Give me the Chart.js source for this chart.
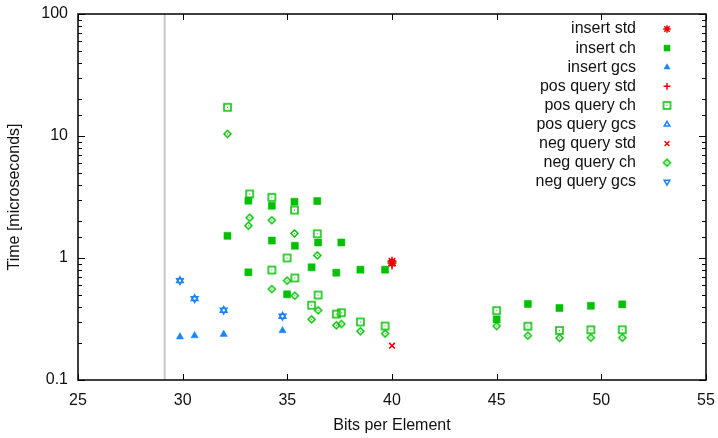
<!DOCTYPE html>
<html>
<head>
<meta charset="utf-8">
<script src="https://cdn.jsdelivr.net/npm/chart.js@4.4.1/dist/chart.umd.min.js"></script>
<style>
  html, body { margin: 0; padding: 0; background: #fff; }
</style>
</head>
<body>
<canvas id="myChart" width="718" height="438"></canvas>
<script>
//---------------------------
// DATA
//---------------------------

// reference line (lower bound) in bits per element
const boundBits = 29.14;

const insertStdBits = [40, 40];
const insertStdTime = [0.94, 0.91];

const insertChBits = [32.14, 33.14, 33.14, 34.26, 34.26, 34.99, 35.34, 35.36, 36.16, 36.43, 36.47, 37.34, 37.58, 38.49, 39.67, 45.0, 46.49, 48.0, 49.5, 51.0];
const insertChTime = [1.52, 2.95, 0.763, 2.68, 1.39, 0.504, 2.89, 1.26, 0.839, 2.93, 1.34, 0.758, 1.34, 0.802, 0.802, 0.314, 0.42, 0.389, 0.406, 0.417];

const insertGcsBits = [29.87, 30.57, 31.96, 34.77];
const insertGcsTime = [0.226, 0.231, 0.237, 0.254];

const posStdBits = [40];
const posStdTime = [0.87];

const posChBits = [32.14, 33.2, 34.26, 34.26, 34.99, 35.34, 35.36, 36.16, 36.43, 36.47, 37.34, 37.58, 38.49, 39.67, 45.0, 46.49, 48.0, 49.5, 51.0];
const posChTime = [17.2, 3.35, 3.14, 0.797, 1.0, 2.47, 0.686, 0.41, 1.58, 0.497, 0.347, 0.356, 0.299, 0.277, 0.37, 0.276, 0.255, 0.258, 0.258];

const posGcsBits = [29.87, 30.57, 31.96, 34.77];
const posGcsTime = [0.652, 0.464, 0.373, 0.333];

const negStdBits = [40];
const negStdTime = [0.191];

const negChBits = [32.14, 33.2, 33.14, 34.26, 34.26, 34.99, 35.34, 35.36, 36.16, 36.43, 36.47, 37.34, 37.58, 38.49, 39.67, 45.0, 46.49, 48.0, 49.5, 51.0];
const negChTime = [10.4, 2.14, 1.84, 2.04, 0.557, 0.652, 1.59, 0.491, 0.314, 1.05, 0.373, 0.281, 0.288, 0.251, 0.24, 0.277, 0.231, 0.221, 0.222, 0.222];

const negGcsBits = [29.87, 30.57, 31.96, 34.77];
const negGcsTime = [0.652, 0.464, 0.373, 0.333];

const xTicks = [25, 30, 35, 40, 45, 50, 55];
const yDecades = [0.1, 1, 10, 100];

//---------------------------
// STYLES
//---------------------------
const RED = '#f00000';
const GREEN = '#00c000';
const BLUE = '#1a84ff';
const FONT = "'Liberation Sans', Arial, sans-serif";
const FS = 16;

function pts(xs, ys) {
    return xs.map((x, i) => ({ x: x, y: ys[i] }));
}

// open marker with a small dot in the middle (gnuplot look)
function dotMarker(color, shape) {
    const c = document.createElement('canvas');
    c.width = 11; c.height = 11;
    const g = c.getContext('2d');
    g.strokeStyle = color;
    g.fillStyle = color;
    g.lineWidth = 1.5;
    g.beginPath();
    if (shape === 'square') {
        g.rect(2, 2, 7, 7);
    } else {
        g.moveTo(5.5, 2); g.lineTo(9, 5.5); g.lineTo(5.5, 9); g.lineTo(2, 5.5); g.closePath();
    }
    g.stroke();
    g.fillRect(5, 5, 1, 1);
    return c;
}

function series(label, xs, ys, color, style, radius, filled, rotation) {
    return {
        label: label,
        data: pts(xs, ys),
        pointStyle: style,
        pointRadius: radius,
        pointHoverRadius: radius,
        pointRotation: rotation || 0,
        pointBackgroundColor: filled ? color : 'rgba(0,0,0,0)',
        pointBorderColor: color,
        pointBorderWidth: filled ? 0.5 : 1.5,
        showLine: false
    };
}

const datasets = [
    series('insert std', insertStdBits, insertStdTime, RED, 'star', 4.5, false),
    series('insert ch', insertChBits, insertChTime, GREEN, 'rect', 5, true),
    series('insert gcs', insertGcsBits, insertGcsTime, BLUE, 'triangle', 4.2, true),
    series('pos query std', posStdBits, posStdTime, RED, 'cross', 4, false),
    series('pos query ch', posChBits, posChTime, GREEN, dotMarker(GREEN, 'square'), 4.6, false),
    series('pos query gcs', posGcsBits, posGcsTime, BLUE, 'triangle', 3.8, false),
    series('neg query std', negStdBits, negStdTime, RED, 'crossRot', 4, false),
    series('neg query ch', negChBits, negChTime, GREEN, dotMarker(GREEN, 'diamond'), 3.4, false),
    series('neg query gcs', negGcsBits, negGcsTime, BLUE, 'triangle', 3.8, false, 180)
];

const nSeries = datasets.length;

datasets.push({
    type: 'line',
    label: 'bound',
    data: [{ x: boundBits, y: yDecades[0] }, { x: boundBits, y: yDecades[yDecades.length - 1] }],
    borderColor: '#c8c8c8',
    borderWidth: 2,
    pointRadius: 0,
    order: 10
});

function isDecade(v) {
    const l = Math.log10(v);
    return Math.abs(l - Math.round(l)) < 1e-9;
}

// gnuplot-like frame, inward ticks and legend
const framePlugin = {
    id: 'framePlugin',
    afterDraw(chart) {
        const ctx = chart.ctx;
        const a = chart.chartArea;
        const xs = chart.scales.x;
        const ys = chart.scales.y;
        ctx.save();
        ctx.strokeStyle = '#000';
        ctx.lineWidth = 1;
        ctx.beginPath();
        ys.ticks.forEach(t => {
            const py = Math.round(ys.getPixelForValue(t.value)) + 0.5;
            const len = isDecade(t.value) ? 7 : 4;
            ctx.moveTo(a.left, py); ctx.lineTo(a.left + len, py);
            ctx.moveTo(a.right, py); ctx.lineTo(a.right - len, py);
        });
        xs.ticks.forEach(t => {
            const px = Math.round(xs.getPixelForValue(t.value)) + 0.5;
            ctx.moveTo(px, a.bottom); ctx.lineTo(px, a.bottom - 6);
            ctx.moveTo(px, a.top); ctx.lineTo(px, a.top + 6);
        });
        ctx.stroke();
        ctx.lineWidth = 1.5;
        ctx.strokeRect(a.left, a.top, a.right - a.left, a.bottom - a.top);

        // legend, text right aligned with marker on the right
        ctx.font = FS + 'px ' + FONT;
        ctx.textAlign = 'right';
        ctx.textBaseline = 'middle';
        for (let i = 0; i < nSeries; i++) {
            const ds = chart.data.datasets[i];
            const ly = 29 + i * 19.1;
            ctx.fillStyle = '#111';
            ctx.fillText(ds.label, 636, ly);
            ctx.fillStyle = ds.pointBackgroundColor;
            ctx.strokeStyle = ds.pointBorderColor;
            ctx.lineWidth = ds.pointBorderWidth;
            Chart.helpers.drawPoint(ctx, {
                pointStyle: ds.pointStyle,
                rotation: ds.pointRotation,
                radius: ds.pointRadius * 0.85,
                borderWidth: ds.pointBorderWidth
            }, 667, ly);
        }
        ctx.restore();
    }
};

new Chart(document.getElementById('myChart'), {
    type: 'scatter',
    data: { datasets: datasets },
    plugins: [framePlugin],
    options: {
        responsive: false,
        animation: false,
        layout: { padding: { top: 14, right: 12, left: 0, bottom: 0 } },
        plugins: {
            legend: { display: false },
            tooltip: { enabled: false }
        },
        scales: {
            x: {
                type: 'linear',
                min: xTicks[0],
                max: xTicks[xTicks.length - 1],
                afterFit: s => { s.height = 58; s.paddingLeft = 0; s.paddingRight = 0; },
                border: { display: false },
                grid: { drawOnChartArea: false, drawTicks: false },
                ticks: {
                    stepSize: 5,
                    padding: 11,
                    color: '#111',
                    font: { family: FONT, size: FS }
                },
                title: {
                    display: true,
                    text: 'Bits per Element',
                    color: '#111',
                    font: { family: FONT, size: FS },
                    padding: { top: 0, bottom: 3 }
                }
            },
            y: {
                type: 'logarithmic',
                min: yDecades[0],
                max: yDecades[yDecades.length - 1],
                afterFit: s => { s.width = 78; s.paddingTop = 0; s.paddingBottom = 0; },
                border: { display: false },
                grid: { drawOnChartArea: false, drawTicks: false },
                ticks: {
                    autoSkip: false,
                    padding: 10,
                    color: '#111',
                    font: { family: FONT, size: FS },
                    callback: v => (isDecade(v) ? String(yDecades.find(d => Math.abs(d - v) < 1e-9) ?? v) : '')
                },
                title: {
                    display: true,
                    text: 'Time [microseconds]',
                    color: '#111',
                    font: { family: FONT, size: FS },
                    padding: { top: 5, bottom: 0 }
                }
            }
        }
    }
});
</script>
</body>
</html>
